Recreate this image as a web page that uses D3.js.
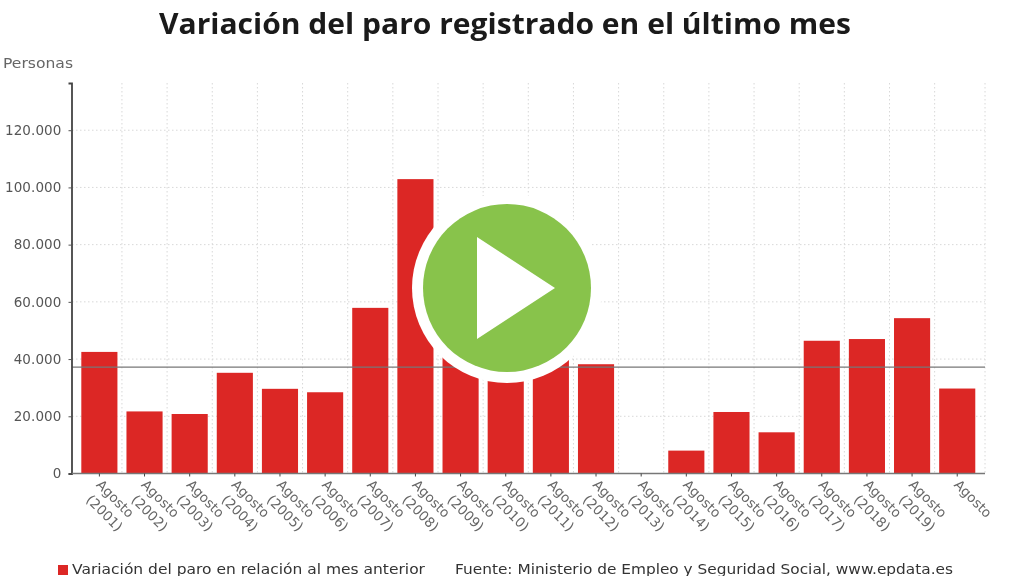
<!DOCTYPE html>
<html><head><meta charset="utf-8">
<script src="https://cdn.jsdelivr.net/npm/d3@7"></script>
<style>
html,body{margin:0;padding:0;background:#fff;overflow:hidden}
svg{display:block}
text{font-family:"DejaVu Sans",sans-serif}
</style></head><body><svg id="c" width="1024" height="576"></svg>
<script>
const categories=["Agosto (2001)","Agosto (2002)","Agosto (2003)","Agosto (2004)","Agosto (2005)","Agosto (2006)","Agosto (2007)","Agosto (2008)","Agosto (2009)","Agosto (2010)","Agosto (2011)","Agosto (2012)","Agosto (2013)","Agosto (2014)","Agosto (2015)","Agosto (2016)","Agosto (2017)","Agosto (2018)","Agosto (2019)","Agosto"];
const values=[42500,21700,20800,35200,29600,28400,57900,102900,84900,46000,51200,38200,0,8000,21500,14400,46400,47000,54300,29700];
const averageValue=37200;
const yTicks=[0,20000,40000,60000,80000,100000,120000];
const titleText="Variación del paro registrado en el último mes";
const unitText="Personas";
const legendText="Variación del paro en relación al mes anterior";
const sourceText="Fuente: Ministerio de Empleo y Seguridad Social, www.epdata.es";

const svg=d3.select("#c");
const root=svg.append("g").style("filter","blur(0.35px)");
const fmt=d=>d===0?"0":d3.format(",")(d).replace(/,/g,".");
const x=d3.scaleBand().domain(categories).range([76.8,979.8]).paddingInner(0.2).paddingOuter(0.1);
const y=d3.scaleLinear().domain([0,136500]).range([473.5,83]);
const step=x.step();

// grid
const grid=root.append("g").attr("stroke","#d8d8d8").attr("stroke-width",1).attr("stroke-dasharray","1.5 2.5");
grid.selectAll("line.h").data(yTicks.slice(1)).join("line").attr("class","h")
 .attr("x1",72).attr("x2",985).attr("y1",d=>y(d)).attr("y2",d=>y(d));
grid.selectAll("line.v").data(categories).join("line").attr("class","v")
 .attr("x1",(d,i)=>i===categories.length-1?985:x(d)+x.bandwidth()/2+step/2)
 .attr("x2",(d,i)=>i===categories.length-1?985:x(d)+x.bandwidth()/2+step/2)
 .attr("y1",83).attr("y2",473.5);

// bars
root.append("g").attr("fill","#dc2725").selectAll("rect").data(values).join("rect")
 .attr("x",(d,i)=>x(categories[i])).attr("width",x.bandwidth())
 .attr("y",d=>y(d)).attr("height",d=>y(0)-y(d));

// average line
root.append("line").attr("x1",72).attr("x2",985).attr("y1",y(averageValue)).attr("y2",y(averageValue))
 .attr("stroke","#777").attr("stroke-width",1.3);

// y axis
const yAxis=root.append("g").attr("transform","translate(71.5,0)")
 .call(d3.axisLeft(y).tickValues(yTicks).tickFormat(fmt).tickSize(3).tickPadding(7));
yAxis.select(".domain").attr("stroke","#444").attr("stroke-width",1.8);
yAxis.selectAll("line").attr("stroke","#555");
yAxis.selectAll("text").attr("fill","#555").attr("font-size",13.5).style("letter-spacing","0.1px");

// x axis
const xAxis=root.append("g").attr("transform","translate(0,473.5)")
 .call(d3.axisBottom(x).tickSize(3).tickFormat(""));
xAxis.select(".domain").attr("stroke","#777").attr("stroke-width",1.6).attr("d","M72,0H985");
xAxis.selectAll("line").attr("stroke","#444");
xAxis.selectAll(".tick").each(function(d){
  const parts=d.split(" ");
  const t=d3.select(this).append("text").attr("transform","translate(-4,12) rotate(45)")
    .attr("fill","#666").attr("font-size",13.5).attr("text-anchor","start");
  parts.forEach((p,i)=>{
    t.append("tspan").attr("x",i?3.5:0).attr("y",i?17.7:0).text(p);
  });
});

// texts
root.append("text").attr("x",159).attr("y",34).style("font-family",'"Open Sans",sans-serif')
 .attr("font-size",28.5).attr("font-weight",700).attr("fill","#1a1a1a").attr("textLength",692).attr("lengthAdjust","spacingAndGlyphs").text(titleText);
root.append("text").attr("x",3).attr("y",68).attr("font-size",13.5).attr("fill","#666").attr("textLength",70).attr("lengthAdjust","spacingAndGlyphs").text(unitText);
const ly=574;
root.append("rect").attr("x",58).attr("y",ly-9).attr("width",10).attr("height",10).attr("fill","#dc2725");
root.append("text").attr("x",72).attr("y",ly).attr("font-size",14).attr("fill","#333").attr("textLength",353).attr("lengthAdjust","spacingAndGlyphs").text(legendText);
root.append("text").attr("x",455).attr("y",ly).attr("font-size",14).attr("fill","#333").attr("textLength",498).attr("lengthAdjust","spacingAndGlyphs").text(sourceText);

// play overlay
const px=507,py=288;
svg.append("circle").attr("cx",px).attr("cy",py).attr("r",95).attr("fill","#fff");
svg.append("circle").attr("cx",px).attr("cy",py).attr("r",84).attr("fill","#88c34b");
svg.append("path").attr("d",`M${px-30},${py-51}L${px+48},${py}L${px-30},${py+51}Z`).attr("fill","#fff");
</script></body></html>
